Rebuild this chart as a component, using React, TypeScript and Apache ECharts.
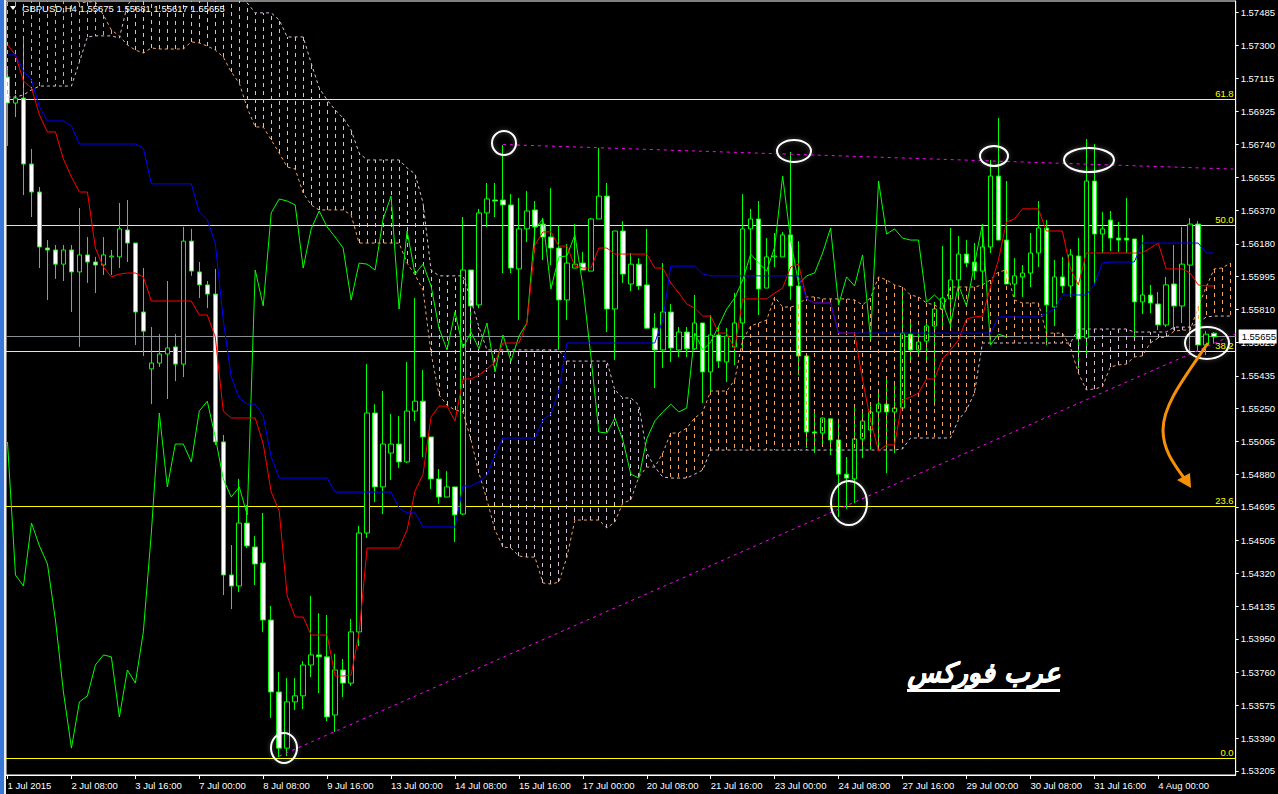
import React, { useEffect, useRef } from "react";
import * as echarts from "echarts";

const opens = [1.57121,1.56974,1.57002,1.5663,1.56472,1.56156,1.56145,1.56065,1.56145,1.56021,1.56117,1.56077,1.5606,1.56106,1.56106,1.56258,1.56184,1.55795,1.55474,1.55507,1.55558,1.55598,1.55501,1.56195,1.56021,1.55948,1.55896,1.55062,1.54311,1.54249,1.54604,1.54469,1.54379,1.54057,1.53651,1.53334,1.53595,1.53629,1.53803,1.5386,1.53849,1.53521,1.53775,1.53701,1.5399,1.54548,1.55225,1.54808,1.54999,1.5505,1.54949,1.55236,1.55292,1.5509,1.54853,1.54751,1.54808,1.54655,1.56032,1.55835,1.56354,1.56427,1.56427,1.56399,1.56038,1.56264,1.56371,1.56291,1.56218,1.56156,1.55863,1.56043,1.56071,1.56026,1.5632,1.56449,1.55812,1.56252,1.55953,1.56065,1.55948,1.55704,1.55581,1.55795,1.55581,1.55682,1.55587,1.55733,1.55457,1.55665,1.55513,1.55598,1.55733,1.56264,1.5632,1.5593,1.56106,1.56106,1.5623,1.55942,1.55547,1.55118,1.55112,1.55192,1.55073,1.5488,1.54853,1.55079,1.55129,1.55231,1.55275,1.55231,1.55253,1.5567,1.55581,1.55631,1.55716,1.55812,1.55869,1.55976,1.56122,1.56077,1.56026,1.56162,1.56562,1.56201,1.55953,1.55993,1.56015,1.56128,1.56269,1.55823,1.55993,1.55942,1.56111,1.55648,1.56534,1.56235,1.56314,1.56212,1.56212,1.56207,1.55852,1.55891,1.5584,1.55722,1.55953,1.55829,1.5606,1.56291,1.55609,1.55675];
const closes = [1.56974,1.57002,1.5663,1.56472,1.56162,1.56145,1.56065,1.56145,1.56021,1.56117,1.56077,1.5606,1.56117,1.56111,1.56264,1.56184,1.55795,1.55687,1.55507,1.55558,1.55592,1.55501,1.56195,1.56026,1.55948,1.55896,1.55062,1.54311,1.54249,1.54604,1.54475,1.54373,1.54057,1.53651,1.53334,1.53595,1.53629,1.53803,1.5386,1.53849,1.5351,1.53775,1.53701,1.5399,1.54548,1.55225,1.54808,1.5505,1.5505,1.54949,1.55236,1.55292,1.5509,1.54853,1.54751,1.54808,1.5465,1.56032,1.55829,1.56354,1.56433,1.56421,1.56399,1.56043,1.56264,1.56365,1.56275,1.56218,1.56156,1.55863,1.56071,1.56065,1.56032,1.5632,1.56449,1.55812,1.56252,1.56009,1.56065,1.55942,1.55704,1.55581,1.55795,1.55592,1.55682,1.55587,1.55733,1.55457,1.55665,1.55518,1.55659,1.55733,1.56264,1.5632,1.55925,1.56106,1.56111,1.5623,1.55942,1.55547,1.55118,1.55112,1.55197,1.55073,1.5488,1.54858,1.55079,1.5518,1.55231,1.55275,1.55231,1.55253,1.55676,1.55581,1.55626,1.55716,1.55812,1.55874,1.55976,1.56122,1.56071,1.56026,1.56162,1.56562,1.56201,1.55953,1.55999,1.56015,1.56128,1.56269,1.55835,1.55993,1.55942,1.56117,1.55643,1.56534,1.56235,1.56264,1.56212,1.56201,1.56201,1.55852,1.55891,1.55846,1.55722,1.55948,1.55829,1.56065,1.56291,1.55609,1.5567,1.55655];
const highs = [1.57161,1.5702,1.5733,1.56715,1.565,1.56201,1.56173,1.56173,1.56173,1.56382,1.56218,1.56106,1.56218,1.56145,1.5641,1.56427,1.56184,1.56043,1.5571,1.5567,1.5597,1.5567,1.56275,1.56264,1.56077,1.5597,1.56038,1.55101,1.5448,1.54853,1.54706,1.54531,1.54661,1.54136,1.53764,1.53729,1.53729,1.53825,1.54193,1.54096,1.54085,1.53865,1.53837,1.54063,1.54588,1.55501,1.55275,1.55349,1.55219,1.55209,1.55513,1.55874,1.55468,1.5509,1.54909,1.54897,1.54808,1.56331,1.56032,1.56377,1.56523,1.56523,1.56737,1.5646,1.56438,1.56477,1.56421,1.56325,1.56494,1.56286,1.56178,1.56291,1.56134,1.56325,1.5672,1.56523,1.56252,1.56308,1.56128,1.56099,1.56264,1.55789,1.56071,1.5584,1.5571,1.5571,1.55891,1.55733,1.55778,1.5571,1.55704,1.55902,1.5646,1.56377,1.56421,1.56212,1.56241,1.56247,1.56698,1.56195,1.55547,1.55225,1.55197,1.55192,1.55192,1.54977,1.55253,1.55231,1.55287,1.55338,1.55434,1.55383,1.55936,1.5575,1.55676,1.5575,1.55852,1.56167,1.56269,1.56224,1.56201,1.56184,1.56286,1.56653,1.5689,1.56534,1.56099,1.5606,1.56241,1.56421,1.56314,1.56088,1.56106,1.5615,1.56212,1.56771,1.56743,1.5636,1.56365,1.56303,1.56438,1.56207,1.5623,1.55948,1.55908,1.55993,1.56173,1.56275,1.56325,1.56308,1.55687,1.55681];
const lows = [1.56732,1.56895,1.56455,1.56331,1.56043,1.55863,1.55982,1.5597,1.55795,1.55598,1.55959,1.55902,1.56004,1.56004,1.56043,1.56077,1.55609,1.55547,1.55275,1.55485,1.55304,1.55405,1.55428,1.55999,1.55874,1.55817,1.55045,1.54198,1.54119,1.54215,1.54463,1.54255,1.5399,1.53504,1.53284,1.53289,1.53549,1.53555,1.53735,1.53645,1.53487,1.53425,1.53623,1.53685,1.5391,1.5452,1.54723,1.54655,1.54847,1.54915,1.54943,1.5518,1.54977,1.54797,1.54712,1.54751,1.54497,1.5465,1.55637,1.55817,1.56275,1.56331,1.56015,1.56015,1.5575,1.5619,1.56128,1.56088,1.5606,1.55581,1.5575,1.56043,1.56032,1.56026,1.5632,1.55682,1.55524,1.55959,1.55913,1.55919,1.55704,1.55366,1.55479,1.55513,1.55541,1.55541,1.55581,1.55281,1.55338,1.55479,1.554,1.55496,1.55581,1.56032,1.55778,1.5593,1.56049,1.56106,1.55863,1.55439,1.55028,1.54999,1.55045,1.54988,1.54639,1.54684,1.54717,1.54971,1.55016,1.55016,1.54886,1.54999,1.55253,1.55507,1.55564,1.55513,1.55264,1.5571,1.5571,1.55863,1.56049,1.55976,1.55936,1.56128,1.56201,1.55953,1.5588,1.5588,1.55936,1.56049,1.55609,1.55716,1.55902,1.5588,1.55479,1.55536,1.55948,1.56128,1.56139,1.56134,1.56128,1.55654,1.55784,1.55789,1.55693,1.5571,1.55693,1.55733,1.5557,1.5557,1.55553,1.55617];
const tenkan = [1.57302,1.57245,1.57098,1.57059,1.56906,1.56811,1.56811,1.56658,1.56557,1.56472,1.56472,1.56156,1.56049,1.55993,1.56009,1.56015,1.56015,1.55993,1.55857,1.55857,1.55857,1.55857,1.55857,1.55857,1.55778,1.55778,1.55654,1.55236,1.55197,1.55197,1.55197,1.55197,1.5505,1.54779,1.54672,1.54193,1.54074,1.54074,1.53972,1.53972,1.53972,1.53741,1.53741,1.53747,1.53984,1.54463,1.54463,1.54463,1.54463,1.54463,1.54565,1.54785,1.5488,1.55203,1.55264,1.55264,1.5518,1.55417,1.55417,1.55439,1.55473,1.55513,1.5562,1.5562,1.5562,1.55733,1.56173,1.56247,1.56247,1.56167,1.56167,1.56054,1.56043,1.56043,1.56156,1.56156,1.56122,1.56122,1.56122,1.56122,1.56122,1.56043,1.56043,1.55959,1.55902,1.5584,1.55817,1.55772,1.55772,1.55676,1.55676,1.55587,1.55869,1.55869,1.55869,1.55869,1.55902,1.5593,1.56049,1.56065,1.55869,1.55846,1.55846,1.55846,1.55676,1.55676,1.55676,1.55411,1.55186,1.55011,1.55045,1.55045,1.55298,1.55315,1.55338,1.55417,1.55417,1.5553,1.55581,1.55637,1.55756,1.55767,1.55772,1.55936,1.56088,1.56303,1.5632,1.56377,1.56377,1.56377,1.56252,1.56252,1.56252,1.56043,1.55948,1.56128,1.56128,1.56128,1.56128,1.56128,1.56128,1.56128,1.56128,1.56156,1.56184,1.56038,1.56038,1.56038,1.56015,1.55948,1.55942,1.55942];
const kijun = [1.57245,1.57245,1.57155,1.57104,1.56952,1.56873,1.56873,1.56873,1.56845,1.56743,1.56743,1.56743,1.56743,1.56743,1.56743,1.56743,1.56743,1.5672,1.56518,1.56518,1.56518,1.56518,1.56518,1.56518,1.5636,1.56314,1.56184,1.5575,1.55428,1.5531,1.55275,1.55275,1.55208,1.54977,1.54858,1.54858,1.54858,1.54858,1.54858,1.54858,1.54858,1.54779,1.54779,1.54779,1.54779,1.54779,1.54779,1.54779,1.54779,1.54689,1.54661,1.54661,1.54582,1.54582,1.54582,1.54582,1.54582,1.54813,1.54813,1.54836,1.54875,1.54988,1.55084,1.55084,1.55084,1.55084,1.55084,1.55186,1.55219,1.55355,1.5562,1.5562,1.5562,1.5562,1.5562,1.5562,1.5562,1.5562,1.5562,1.5562,1.5562,1.5562,1.5575,1.56054,1.56054,1.56054,1.56054,1.56009,1.55999,1.55999,1.55999,1.55999,1.55999,1.55999,1.55999,1.55999,1.55999,1.55999,1.55999,1.55999,1.55869,1.55846,1.55846,1.55846,1.55676,1.55676,1.55676,1.55676,1.55676,1.55676,1.55676,1.55676,1.55676,1.55676,1.55676,1.55676,1.55676,1.55676,1.55676,1.55676,1.55676,1.55676,1.55676,1.55676,1.55767,1.55767,1.55767,1.55767,1.55767,1.55767,1.55789,1.55812,1.55891,1.55891,1.55891,1.55891,1.55948,1.56071,1.56077,1.56077,1.56077,1.56077,1.56184,1.56184,1.56184,1.56184,1.56184,1.56184,1.56184,1.56184,1.56128,1.56128];
const laggingSpan = closes.slice(26);
const spanA = [1.57725,1.57725,1.57714,1.57697,1.5768,1.57657,1.57624,1.57601,1.57573,1.57539,1.57545,1.57545,1.57471,1.57386,1.57353,1.57302,1.57273,1.57256,1.57285,1.57279,1.57279,1.57279,1.57279,1.57319,1.57313,1.57296,1.57273,1.57234,1.57149,1.57087,1.56946,1.56839,1.56839,1.56766,1.56692,1.56613,1.56602,1.56466,1.56399,1.56371,1.56371,1.56371,1.56371,1.56342,1.56184,1.56184,1.56184,1.56184,1.56184,1.56184,1.56071,1.56004,1.55919,1.55564,1.55327,1.5527,1.55242,1.55231,1.55073,1.54886,1.54734,1.54565,1.54469,1.54463,1.54418,1.54412,1.54412,1.54266,1.5426,1.54271,1.54412,1.54621,1.54621,1.54621,1.54621,1.54576,1.5461,1.54717,1.54734,1.54864,1.5492,1.5492,1.54999,1.55112,1.55112,1.5514,1.55197,1.55231,1.55349,1.55349,1.55349,1.55411,1.55637,1.55716,1.55733,1.5575,1.5588,1.55823,1.55823,1.55835,1.5588,1.5588,1.55869,1.55869,1.55869,1.55869,1.55863,1.55835,1.55874,1.55993,1.55976,1.55948,1.55936,1.55891,1.5588,1.55846,1.55835,1.55806,1.55936,1.55936,1.55936,1.55936,1.55948,1.55976,1.56021,1.56032,1.55863,1.55846,1.55846,1.55846,1.55676,1.55676,1.55676,1.55598,1.55451,1.55355,1.55361,1.55372,1.55485,1.55496,1.55501,1.55541,1.55547,1.5562,1.55648,1.55654,1.55687,1.55693,1.55693,1.55823,1.55936,1.56038,1.56043,1.56071];
const spanB = [1.57008,1.57008,1.5702,1.57048,1.5707,1.5707,1.5707,1.5707,1.5707,1.57206,1.57347,1.57353,1.57353,1.57353,1.57341,1.57527,1.57584,1.57584,1.57584,1.57584,1.57584,1.57584,1.57584,1.57584,1.57584,1.57584,1.57584,1.57584,1.57584,1.57584,1.57539,1.57483,1.57483,1.57483,1.57443,1.57347,1.57347,1.57347,1.572,1.57059,1.56991,1.56935,1.5689,1.56822,1.56692,1.56653,1.56653,1.56653,1.56653,1.56653,1.56608,1.56574,1.5641,1.56032,1.55999,1.55999,1.55999,1.55999,1.55863,1.5571,1.55581,1.55581,1.55581,1.55581,1.55581,1.55581,1.55581,1.55581,1.55581,1.55581,1.55518,1.55518,1.55518,1.55518,1.55518,1.55518,1.55355,1.5531,1.5531,1.5527,1.54999,1.5492,1.54864,1.54858,1.54858,1.54858,1.5488,1.54903,1.55016,1.55016,1.55016,1.55016,1.55016,1.55016,1.55016,1.55016,1.55016,1.55016,1.55016,1.55016,1.55016,1.55016,1.55016,1.55016,1.55016,1.55016,1.55016,1.55016,1.55016,1.55016,1.55016,1.55016,1.55022,1.55084,1.55084,1.55084,1.55084,1.55084,1.55084,1.55186,1.55242,1.55338,1.5562,1.5562,1.5562,1.5562,1.5562,1.5562,1.5562,1.5562,1.5562,1.5562,1.5562,1.5562,1.55699,1.55699,1.55699,1.55699,1.55699,1.55699,1.55699,1.55682,1.55682,1.55682,1.55682,1.55682,1.5571,1.5571,1.5571,1.55733,1.55767,1.55772,1.55772,1.55772];

const priceTicks = [1.57485,1.573,1.57115,1.56925,1.5674,1.56555,1.5637,1.5618,1.55995,1.5581,1.55625,1.55435,1.5525,1.55065,1.5488,1.54695,1.54505,1.5432,1.54135,1.5395,1.5376,1.53575,1.5339,1.53205];
const timeLabels = ["1 Jul 2015","2 Jul 08:00","3 Jul 16:00","7 Jul 00:00","8 Jul 08:00","9 Jul 16:00","13 Jul 00:00","14 Jul 08:00","15 Jul 16:00","17 Jul 00:00","20 Jul 08:00","21 Jul 16:00","23 Jul 00:00","24 Jul 08:00","27 Jul 16:00","29 Jul 00:00","30 Jul 08:00","31 Jul 16:00","4 Aug 00:00"];
const fibPrices = [1.56992,1.56284,1.55572,1.54695,1.53278];
const fibNames = ["61.8","50.0","38.2","23.6","0.0"];
const bidPrice = 1.55655;
const resistanceLine = [[62,1.5674],[153.7,1.56601]];
const supportLine = [[34,1.53289],[153.7,1.55672]];
const titleText = "GBPUSD,H4 1.55675 1.55681 1.55617 1.55655";
const logoText = "عرب فوركس";

const UI = '"Liberation Sans", Arial, sans-serif';
const X_MIN = -0.1875;
const X_MAX = 153.6875;
const ellipses = [[284,748,13,15],[504,143,12,12],[794,151,17,11],[994,156,14,10],[1089,160,25,12],[1207,343,22,16],[849,503,18,22]];

export default function App() {
  const ref = useRef<HTMLDivElement>(null);
  useEffect(() => {
    document.body.style.margin = "0";
    document.body.style.background = "#000";
    document.body.style.overflow = "hidden";
    const chart = echarts.init(ref.current!, undefined, { renderer: "svg" });
    const withIndex = (a: number[]) => a.map((v, i) => [i, v]);
    const crisp = (v: number) => Math.floor(v) + 0.5;
    const lineSeries = (name: string, data: any[], color: string, z: number, type: any = "solid", width = 1) => ({
      type: "line", name, data, z, showSymbol: false, symbol: "none", silent: true, animation: false,
      lineStyle: { color, width, type, cap: "butt" }, clip: true,
    });
    const xTicks = timeLabels.map((_, i) => i * 8);
    const xFmt = (v: number) => timeLabels[Math.round(v / 8)] ?? "";
    chart.setOption({
      animation: false,
      backgroundColor: "#000",
      grid: { left: 6, top: 1, width: 1231, height: 774, show: true, backgroundColor: "#000", borderColor: "#fff", borderWidth: 1, containLabel: false },
      xAxis: {
        type: "value", min: X_MIN, max: X_MAX, splitLine: { show: false },
        axisLine: { show: true, onZero: false, lineStyle: { color: "#fff", width: 1 } },
        axisTick: { show: true, length: 4, customValues: xTicks, lineStyle: { color: "#fff" } },
        axisLabel: { show: true, customValues: xTicks, formatter: xFmt, color: "#fff", align: "left", fontFamily: UI, fontSize: 9.5, margin: 5, hideOverlap: false },
      },
      yAxis: {
        type: "value", position: "right", min: 1.531824, max: 1.575499, splitLine: { show: false },
        axisLine: { show: true, onZero: false, lineStyle: { color: "#fff", width: 1 } },
        axisTick: { show: true, length: 3, customValues: priceTicks, lineStyle: { color: "#fff" } },
        axisLabel: { show: true, customValues: priceTicks, formatter: (v: number) => v.toFixed(5), color: "#fff", fontFamily: UI, fontSize: 9.5, margin: 5 },
      },
      series: [
        {
          type: "custom", name: "Fibonacci", z: 1, silent: true, clip: false,
          data: fibPrices.map((p, i) => [p, i]),
          encode: { y: 0 },
          renderItem: (_: any, api: any) => {
            const p = api.value(0), idx = api.value(1);
            const a = api.coord([X_MIN, p]), b = api.coord([X_MAX, p]);
            const y = crisp(a[1]);
            return {
              type: "group",
              children: [
                { type: "line", shape: { x1: a[0], y1: y, x2: b[0], y2: y }, style: { stroke: "#ffff00", lineWidth: 1, fill: "none" } },
                { type: "text", style: { x: b[0] - 2, y: y - 1, text: fibNames[idx], fill: "#ffff00", font: `9.5px ${UI}`, align: "right", verticalAlign: "bottom" } },
              ],
            };
          },
        },
        {
          type: "custom", name: "Bid", z: 1, silent: true, clip: false,
          data: [[bidPrice]],
          encode: { y: 0 },
          renderItem: (_: any, api: any) => {
            const p = api.value(0);
            const a = api.coord([X_MIN, p]), b = api.coord([X_MAX, p]);
            const y = crisp(a[1]);
            return {
              type: "group",
              children: [
                { type: "line", shape: { x1: a[0], y1: y, x2: b[0], y2: y }, style: { stroke: "#8a8f94", lineWidth: 1, fill: "none" } },
                { type: "rect", shape: { x: b[0] + 3, y: y - 7, width: 38, height: 14 }, style: { fill: "#fff" } },
                { type: "text", style: { x: b[0] + 6, y, text: bidPrice.toFixed(5), fill: "#000", font: `9.5px ${UI}`, align: "left", verticalAlign: "middle" } },
              ],
            };
          },
        },
        {
          type: "candlestick", name: "GBPUSD", z: 2, barWidth: 5, silent: true, clip: true,
          data: opens.map((o, i) => [i, o, closes[i], lows[i], highs[i]]),
          itemStyle: { color: "#000", color0: "#fff", borderColor: "#00ff00", borderColor0: "#00ff00", borderWidth: 1 },
        },
        {
          type: "custom", name: "Cloud", z: 3, silent: true, clip: true,
          data: spanA.map((a, i) => [i, a, spanB[i]]),
          encode: { x: 0, y: [1, 2] },
          renderItem: (_: any, api: any) => {
            const i = api.value(0), a = api.value(1), b = api.value(2);
            const p = api.coord([i, a]), q = api.coord([i, b]);
            const x = crisp(p[0]);
            return {
              type: "line",
              shape: { x1: x, y1: Math.round(p[1]), x2: x, y2: Math.round(q[1]) },
              style: { stroke: a >= b ? "#f4a460" : "#d8bfd8", lineWidth: 1, lineDash: [4, 4], fill: "none" },
            };
          },
        },
        lineSeries("Senkou Span A", withIndex(spanA), "#f4a460", 3, [3, 3]),
        lineSeries("Senkou Span B", withIndex(spanB), "#d8bfd8", 3, [3, 3]),
        lineSeries("Resistance", resistanceLine, "#ff00ff", 3, [3, 4]),
        lineSeries("Support", supportLine, "#ff00ff", 3, [3, 4]),
        lineSeries("Chikou", withIndex(laggingSpan), "#00ff00", 4),
        lineSeries("Tenkan", withIndex(tenkan), "#ff0000", 4),
        lineSeries("Kijun", withIndex(kijun), "#0000ff", 4),
      ],
      graphic: [
        { type: "rect", z: 100, silent: true, shape: { x: 0, y: 0, width: 4, height: 794 }, style: { fill: "#3a78d8" } },
        { type: "rect", z: 100, silent: true, shape: { x: 4, y: 0, width: 2, height: 794 }, style: { fill: "#e8eef8" } },
        { type: "polygon", z: 100, silent: true, shape: { points: [[10, 6], [16, 6], [13, 10]] }, style: { fill: "#fff" } },
        { type: "text", z: 100, silent: true, x: 22, y: 3, style: { text: titleText, fill: "#fff", font: `9.5px ${UI}` } },
        ...ellipses.map(([cx, cy, rx, ry]) => ({
          type: "ellipse", z: 101, silent: true, shape: { cx, cy, rx, ry },
          style: { fill: "none", stroke: "#fff", lineWidth: 2, shadowBlur: 5, shadowColor: "rgba(255,255,255,0.35)" },
        })),
        { type: "bezierCurve", z: 102, silent: true, shape: { x1: 1208, y1: 343, cpx1: 1184, cpy1: 378, cpx2: 1163, cpy2: 405, x2: 1163, y2: 430 }, style: { stroke: "#f79009", lineWidth: 3, fill: "none" } },
        { type: "bezierCurve", z: 102, silent: true, shape: { x1: 1163, y1: 430, cpx1: 1163, cpy1: 450, cpx2: 1174, cpy2: 464, x2: 1184, y2: 478 }, style: { stroke: "#f79009", lineWidth: 3, fill: "none" } },
        { type: "polygon", z: 102, silent: true, shape: { points: [[1177, 480], [1190, 473], [1191, 488]] }, style: { fill: "#f79009" } },
        { type: "text", z: 103, silent: true, x: 984, y: 672, style: { text: logoText, fill: "#fff", stroke: "#fff", lineWidth: 0.7, font: 'italic bold 27px "DejaVu Sans"', textAlign: "center", textVerticalAlign: "middle" } },
        { type: "rect", z: 103, silent: true, shape: { x: 907, y: 689, width: 153, height: 3 }, style: { fill: "#fff" } },
      ],
    });
    return () => chart.dispose();
  }, []);
  return <div ref={ref} style={{ width: 1278, height: 794 }} />;
}
